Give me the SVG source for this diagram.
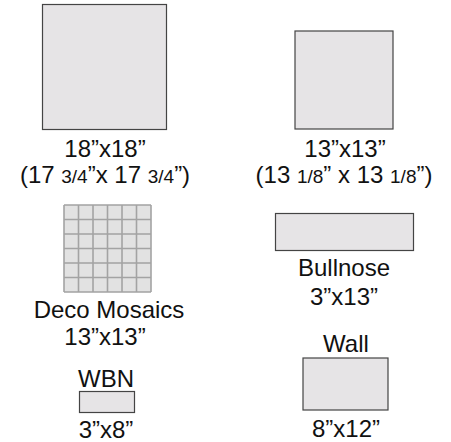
<svg xmlns="http://www.w3.org/2000/svg" width="451" height="442" viewBox="0 0 451 442">
<style>
.tile{fill:#e6e4e6;stroke:#444;stroke-width:1.2}
.t{font-family:"Liberation Sans",Arial,sans-serif;font-size:24px;fill:#111;text-anchor:middle}
.f{font-size:19px}
.g{stroke:#a3a3a3;stroke-width:1.6;fill:none}
</style>
<rect width="451" height="442" fill="#fff"/>
<g id="tile18">
<rect class="tile" x="42.5" y="4.5" width="124" height="125"/>
<text class="t" x="105" y="157">18”x18”</text>
<text class="t" x="105" y="183">(17 <tspan class="f">3/4</tspan>”x 17 <tspan class="f">3/4</tspan>”)</text>
</g>
<g id="tile13">
<rect class="tile" x="295" y="31" width="98" height="98"/>
<text class="t" x="345" y="157">13”x13”</text>
<text class="t" x="344" y="183">(13 <tspan class="f">1/8</tspan>” x 13 <tspan class="f">1/8</tspan>”)</text>
</g>
<g id="mosaic">
<rect x="64" y="205" width="87" height="87" fill="#e2e2e2"/>
<path class="g" d="M64 205H151M64 219.5H151M64 234H151M64 248.5H151M64 263H151M64 277.5H151M64 292H151M64 205V292M78.5 205V292M93 205V292M107.5 205V292M122 205V292M136.5 205V292M151 205V292"/>
<text class="t" x="109" y="318">Deco Mosaics</text>
<text class="t" x="105" y="345">13”x13”</text>
</g>
<g id="bullnose">
<rect class="tile" x="275.5" y="213.5" width="138" height="37"/>
<text class="t" x="344" y="276">Bullnose</text>
<text class="t" x="344" y="305">3”x13”</text>
</g>
<g id="wbn">
<text class="t" x="106" y="387">WBN</text>
<rect class="tile" x="79.5" y="391.5" width="55" height="21"/>
<text class="t" x="106" y="438">3”x8”</text>
</g>
<g id="wall">
<text class="t" x="346" y="352">Wall</text>
<rect class="tile" x="303" y="358" width="85" height="52"/>
<text class="t" x="346" y="437">8”x12”</text>
</g>
<g id="connectors"></g>
</svg>
